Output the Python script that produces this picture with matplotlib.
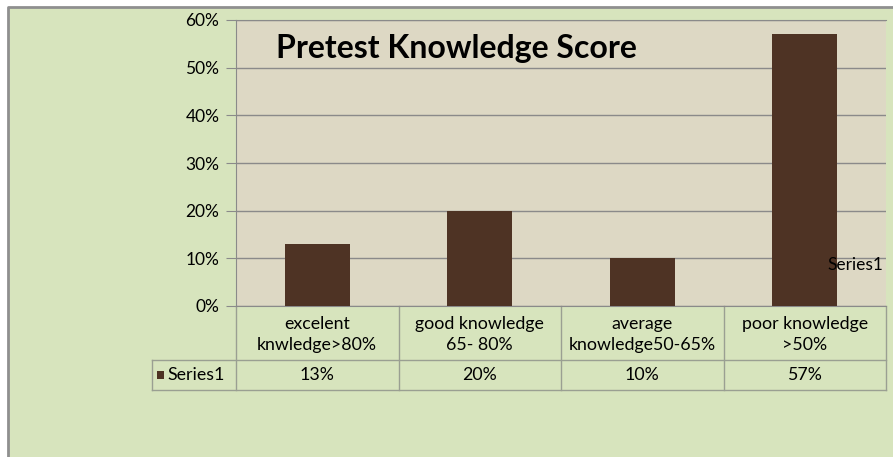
import matplotlib.pyplot as plt
from matplotlib.patches import Rectangle
from matplotlib.lines import Line2D

categories = ['excelent\nknwledge>80%', 'good knowledge\n65- 80%',
              'average\nknowledge50-65%', 'poor knowledge\n>50%']
values = [0.13, 0.20, 0.10, 0.57]
value_labels = ['13%', '20%', '10%', '57%']
series_name = 'Series1'
yticks = [0.0, 0.1, 0.2, 0.3, 0.4, 0.5, 0.6]
ytick_labels = ['0%', '10%', '20%', '30%', '40%', '50%', '60%']

plt.rcParams['font.family'] = ['Lato', 'DejaVu Sans']

green = '#d7e4bd'
plot_bg = '#ddd8c4'
bar_color = '#4e3324'
grid_color = '#8a8a8a'
table_line = '#9a9f92'


def draw_chart():
    fig = plt.figure(figsize=(8.93, 4.57), dpi=100, facecolor='white')
    # green chart area with grey outline at top/left
    fig.patches.append(Rectangle((8 / 893, 0), 1, (457 - 7) / 457,
                                 transform=fig.transFigure, facecolor=green,
                                 edgecolor='none', zorder=-10))
    fig.lines.append(Line2D([8 / 893, 8 / 893, 1], [0, 450 / 457, 450 / 457],
                            transform=fig.transFigure, color='#8f8f8f', lw=2,
                            zorder=-5))

    ax = fig.add_axes([236 / 893, 151 / 457, 650 / 893, 286 / 457])
    ax.set_facecolor(plot_bg)
    x = range(len(categories))
    ax.bar(x, values, width=0.4, color=bar_color, zorder=3)
    ax.set_xlim(-0.5, len(categories) - 0.5)
    ax.set_ylim(0, 0.6)
    ax.set_yticks(yticks)
    ax.set_yticklabels(ytick_labels, fontsize=12.5)
    ax.tick_params(axis='y', length=7, color=grid_color, pad=5)
    ax.set_xticks([])
    ax.grid(axis='y', color=grid_color, lw=1, zorder=1)
    for s in ['left', 'bottom', 'top']:
        ax.spines[s].set_color(grid_color)
    ax.spines['right'].set_visible(False)

    ax.text(0.062, 0.9, 'Pretest Knowledge Score', transform=ax.transAxes,
            fontsize=23, fontweight='bold', ha='left', va='center')
    ax.text(3.14, 0.086, series_name, fontsize=12.5, ha='left', va='center')

    # data table under the axis
    tr = ax.get_xaxis_transform()
    y_head = -54 / 286
    y_row = -84 / 286
    x_left = -0.5 - 84 / 162.5
    kw = dict(transform=tr, color=table_line, lw=1, clip_on=False)
    ax.plot([x_left, 3.5], [y_head, y_head], **kw)
    ax.plot([x_left, 3.5], [y_row, y_row], **kw)
    ax.plot([x_left, x_left], [y_head, y_row], **kw)
    for i in range(len(categories) + 1):
        ax.plot([i - 0.5, i - 0.5], [0, y_row], **kw)
    for i, (cat, lab) in enumerate(zip(categories, value_labels)):
        ax.text(i, y_head / 2 - 0.005, cat, transform=tr, ha='center',
                va='center', fontsize=12.8, linespacing=1.35, clip_on=False)
        ax.text(i, (y_head + y_row) / 2, lab, transform=tr, ha='center',
                va='center', fontsize=12.8, clip_on=False)
    ax.add_patch(Rectangle((x_left + 0.03, (y_head + y_row) / 2 - 0.013),
                           0.045, 0.026, transform=tr, facecolor=bar_color,
                           edgecolor='none', clip_on=False))
    ax.text(x_left + 0.095, (y_head + y_row) / 2, series_name, transform=tr,
            ha='left', va='center', fontsize=12.8, clip_on=False)

    fig.savefig('out.png', dpi=100)


if __name__ == '__main__':
    draw_chart()
